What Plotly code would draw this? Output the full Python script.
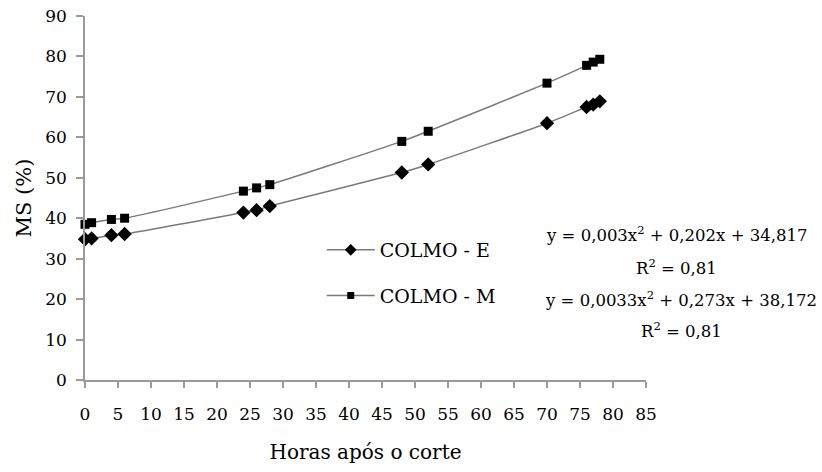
import plotly.graph_objects as go

# Hours after cutting and dry-matter content (%) for the two stem types
horas = [0, 1, 4, 6, 24, 26, 28, 48, 52, 70, 76, 77, 78]
colmo_e = [34.8, 35.0, 35.8, 36.1, 41.4, 42.0, 43.0, 51.3, 53.3, 63.5, 67.5, 68.1, 68.9]
colmo_m = [38.5, 38.9, 39.7, 40.0, 46.7, 47.5, 48.3, 59.0, 61.5, 73.4, 77.8, 78.6, 79.3]

x_ticks = list(range(0, 90, 5))
y_ticks = list(range(0, 100, 10))

equacoes = [
    "y = 0,003x<sup>2</sup> + 0,202x + 34,817",
    "R<sup>2</sup> = 0,81",
    "y = 0,0033x<sup>2</sup> + 0,273x + 38,172",
    "R<sup>2</sup> = 0,81",
]
# annotation centres in paper coordinates
eq_pos = [(1.054, 0.401), (1.055, 0.310), (1.063, 0.222), (1.064, 0.137)]

FONT = "DejaVu Serif"
LINE = "#7a7a7a"
AXIS = "#9a9a9a"

fig = go.Figure()
fig.add_trace(go.Scatter(
    x=horas, y=colmo_e, name="COLMO - E", mode="lines+markers",
    line=dict(color=LINE, width=1.5, shape="spline", smoothing=0.6),
    marker=dict(symbol="diamond", size=11, color="black"),
    showlegend=False, cliponaxis=False,
))
fig.add_trace(go.Scatter(
    x=horas, y=colmo_m, name="COLMO - M", mode="lines+markers",
    line=dict(color=LINE, width=1.5, shape="spline", smoothing=0.6),
    marker=dict(symbol="square", size=9, color="black"),
    showlegend=False, cliponaxis=False,
))
# legend keys with smaller symbols
fig.add_trace(go.Scatter(
    x=[None], y=[None], name="COLMO - E", mode="lines+markers",
    line=dict(color=LINE, width=1.5), marker=dict(symbol="diamond", size=9, color="black"),
    legendgroup="e",
))
fig.add_trace(go.Scatter(
    x=[None], y=[None], name="COLMO - M", mode="lines+markers",
    line=dict(color=LINE, width=1.5), marker=dict(symbol="square", size=7, color="black"),
    legendgroup="m",
))

for txt, (ax, ay) in zip(equacoes, eq_pos):
    fig.add_annotation(x=ax, y=ay, xref="paper", yref="paper", text=txt, showarrow=False,
                       xanchor="center", yanchor="middle",
                       font=dict(family=FONT, size=16.5, color="black"))

fig.update_layout(
    width=822, height=472,
    margin=dict(l=85, r=176, t=16, b=92, autoexpand=False),
    paper_bgcolor="white", plot_bgcolor="white",
    font=dict(family=FONT, size=17, color="black"),
    showlegend=True,
    legend=dict(
        x=0.422, y=0.294, xanchor="left", yanchor="middle",
        bgcolor="rgba(0,0,0,0)", traceorder="grouped", tracegroupgap=18,
        itemsizing="trace", itemwidth=48,
        font=dict(family=FONT, size=19, color="black"),
    ),
    xaxis=dict(
        range=[0, 85], tickvals=x_ticks, showgrid=False, zeroline=False,
        showline=True, linecolor=AXIS, linewidth=1.5, automargin=False,
        ticks="outside", ticklen=6, tickcolor=AXIS, tickwidth=1.5,
        ticklabelstandoff=12, tickfont=dict(family=FONT, size=17),
        title=dict(text="Horas após o corte", font=dict(family=FONT, size=20), standoff=22),
    ),
    yaxis=dict(
        range=[0, 90], tickvals=y_ticks, showgrid=False, zeroline=False,
        showline=True, linecolor=AXIS, linewidth=1.5, automargin=False,
        ticks="outside", ticklen=7, tickcolor=AXIS, tickwidth=1.5,
        ticklabelstandoff=6, tickfont=dict(family=FONT, size=17),
        title=dict(text="MS (%)", font=dict(family=FONT, size=21), standoff=8),
    ),
)

fig.write_html("out.html")
